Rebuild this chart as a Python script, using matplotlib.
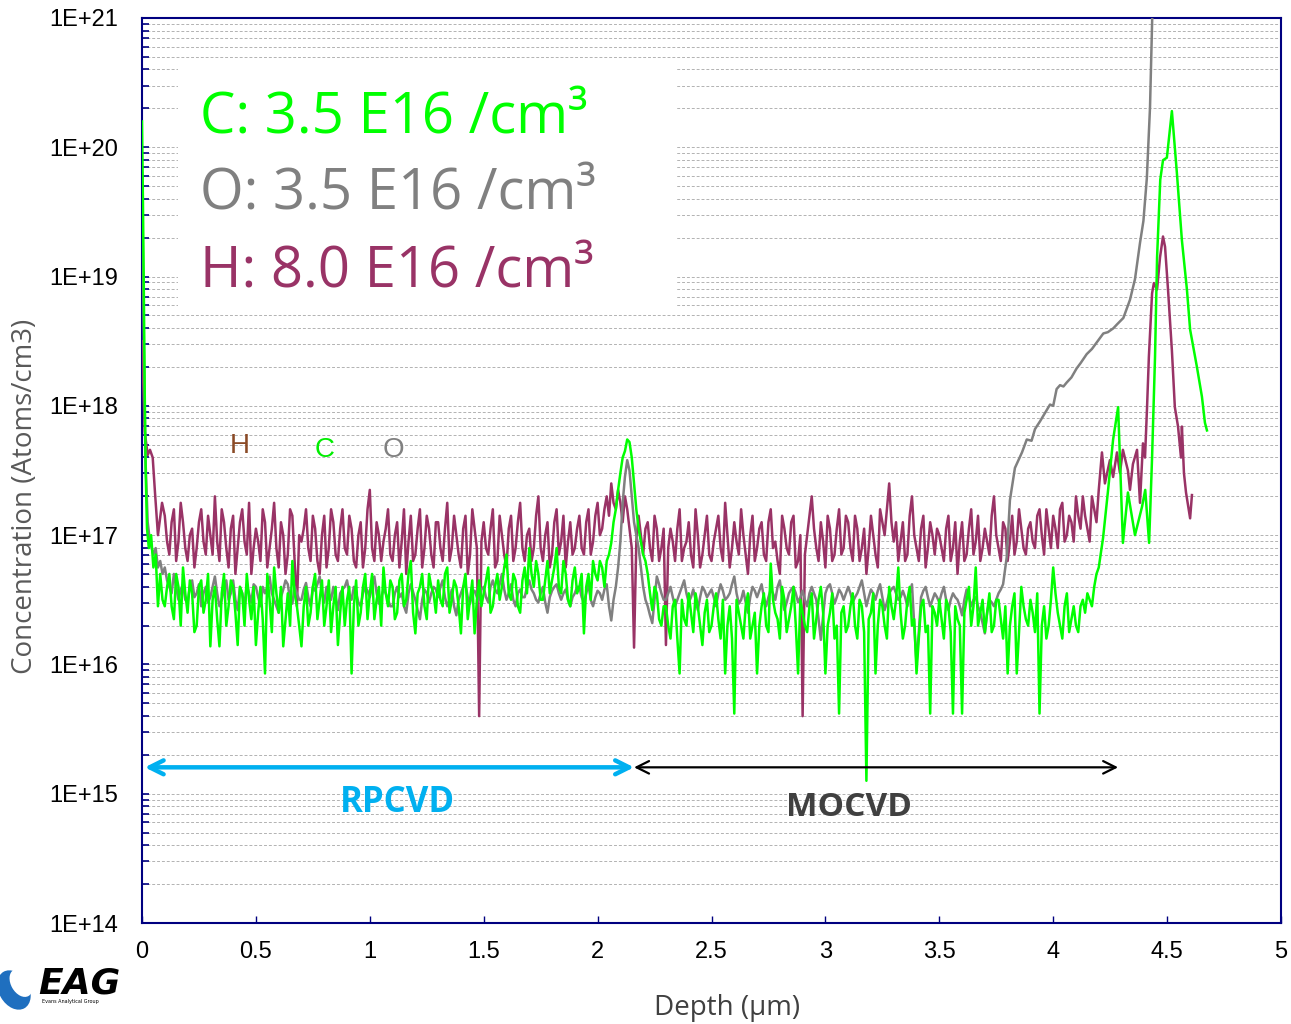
import numpy as np
import matplotlib
matplotlib.use("Agg")
import matplotlib.pyplot as plt
from matplotlib.patches import Rectangle, Ellipse
from matplotlib.ticker import LogLocator, FixedLocator, NullFormatter

# ---------------- data (log10 of concentration, atoms/cm3) ----------------
grid_start = 0.10   # um, regular depth sampling of the profile body
grid_step = 0.02    # "base" points at 0.10, 0.12, ...; "mid" points at 0.11, 0.13, ...

# Hydrogen
h_surface_depth = [0.0, 0.012, 0.025, 0.035, 0.047, 0.057, 0.07, 0.088]
h_surface_log = [18.5, 17.8, 17.62, 17.66, 17.6, 17.33, 17.0, 17.25]
h_base_log = [
    17.15, 16.85, 17.2, 16.95, 17.1, 16.8, 17.05, 16.9, 17.2, 16.85,
    17.0, 17.3, 16.8, 17.1, 16.75, 17.15, 16.9, 17.2, 16.85, 16.7,
    17.05, 16.8, 17.1, 16.9, 17.25, 16.75, 17.0, 16.85, 17.15, 16.45,
    16.95, 17.2, 16.8, 17.05, 16.7, 17.15, 16.9, 17.1, 16.8, 17.2,
    16.85, 17.05, 16.75, 17.1, 16.9, 17.35, 16.8, 17.0, 16.95, 17.2,
    16.8, 17.1, 16.95, 16.7, 17.15, 16.85, 17.2, 16.9, 17.05, 16.75,
    17.1, 16.8, 17.25, 16.9, 17.0, 16.75, 17.15, 16.85, 17.05, 15.6,
    17.1, 16.85, 17.2, 16.8, 17.0, 16.75, 17.15, 16.9, 17.25, 16.8,
    17.05, 16.9, 17.3, 16.8, 17.1, 16.85, 17.2, 16.95, 16.75, 17.1,
    16.9, 17.15, 16.85, 17.2, 16.95, 17.25, 17.05, 17.3, 17.4, 17.2,
    17.25, 17.3, 17.05, 16.13, 17.15, 16.85, 17.1, 16.8, 17.05, 16.9,
    16.15, 17.05, 16.8, 17.2, 16.9, 17.1, 16.75, 17.0, 16.85, 17.15,
    16.8, 17.05, 16.9, 17.25, 16.75, 17.1, 16.85, 17.0, 16.7, 17.15,
    16.9, 17.1, 16.8, 17.2, 16.95, 16.7, 17.05, 16.85, 17.15, 16.8,
    15.6, 17.0, 17.3, 16.9, 17.1, 16.75, 17.05, 16.85, 17.2, 16.9,
    17.1, 16.8, 17.05, 16.9, 16.7, 17.15, 16.85, 17.2, 17.0, 17.4,
    16.95, 16.8, 17.1, 16.85, 17.3, 16.9, 17.05, 16.75, 17.1, 16.85,
    17.0, 16.8, 17.15, 16.9, 16.7, 17.1, 16.85, 17.2, 16.95, 16.8,
    17.05, 16.85, 17.3, 16.9, 17.1, 16.8, 17.15, 16.95, 17.05, 16.85,
    17.1, 16.9, 17.2, 16.85, 17.05, 17.15, 16.9, 17.25, 17.0, 17.1,
    17.3, 17.05, 17.15, 16.95, 17.2, 17.35,
]
h_mid_log = [
    16.95, 17.1, 16.8, 17.25, 16.9, 17.0, 16.75, 17.1, 16.95, 17.15,
    16.85, 16.95, 17.2, 16.9, 17.05, 16.7, 17.1, 16.95, 17.25, 16.9,
    16.95, 17.2, 16.75, 17.05, 16.9, 17.1, 16.7, 17.2, 16.8, 17.0,
    17.05, 16.9, 17.15, 16.8, 17.0, 16.75, 17.2, 16.85, 17.05, 16.9,
    17.15, 16.8, 17.0, 16.75, 17.2, 16.9, 17.1, 16.8, 17.05, 16.85,
    17.0, 16.75, 17.2, 16.95, 16.8, 17.05, 16.75, 17.15, 16.85, 17.1,
    16.9, 17.05, 16.8, 17.15, 16.85, 17.05, 16.7, 17.2, 16.9, 16.95,
    16.9, 17.05, 16.75, 17.15, 16.85, 17.05, 16.8, 17.1, 16.9, 17.0,
    16.8, 17.15, 16.9, 17.0, 16.75, 17.1, 16.85, 17.15, 16.95, 16.85,
    17.05, 16.9, 17.1, 16.85, 17.15, 17.0, 17.2, 17.15, 17.25, 17.35,
    17.1, 17.2, 16.9, 16.95, 17.0, 17.05, 16.9, 17.15, 16.8, 17.05,
    16.9, 16.95, 17.05, 16.8, 16.95, 16.85, 17.2, 16.75, 17.0, 16.85,
    16.95, 17.15, 16.8, 17.0, 16.9, 16.95, 17.2, 16.85, 17.0, 16.8,
    17.05, 16.85, 17.1, 16.9, 16.8, 17.15, 16.9, 17.1, 16.75, 17.0,
    16.85, 17.15, 17.05, 16.8, 16.95, 17.15, 16.8, 17.05, 16.85, 17.15,
    16.9, 17.15, 16.8, 17.05, 16.9, 17.0, 16.75, 17.1, 17.2, 17.1,
    17.1, 16.95, 16.8, 17.15, 17.0, 16.8, 17.15, 16.9, 17.0, 17.05,
    16.9, 17.05, 16.8, 17.1, 16.95, 16.8, 17.05, 16.85, 17.15, 16.9,
    16.95, 17.15, 17.0, 16.8, 17.05, 16.95, 16.85, 17.2, 16.9, 17.05,
    16.95, 17.15, 17.0, 17.2, 16.9, 17.05, 17.2, 16.95, 17.15, 16.95,
    17.15, 17.3, 17.05, 17.3, 17.1,
]
h_tail_depth = [4.214, 4.227, 4.249, 4.263, 4.280, 4.293, 4.306, 4.328, 4.337, 4.350,
                4.368, 4.381, 4.394, 4.403, 4.412, 4.420, 4.434, 4.442, 4.456, 4.469,
                4.482, 4.491, 4.504, 4.521, 4.534, 4.548, 4.561, 4.565, 4.574, 4.583,
                4.601, 4.609]
h_tail_log = [17.64, 17.4, 17.58, 17.45, 17.64, 17.48, 17.66, 17.5, 17.35, 17.55,
              17.66, 17.25, 17.71, 17.6, 17.99, 18.38, 18.87, 18.95, 18.9, 19.15,
              19.31, 19.23, 18.9, 18.43, 17.99, 17.84, 17.6, 17.84, 17.48, 17.33,
              17.13, 17.31]

# Carbon
c_surface_depth = [0.0, 0.004, 0.008, 0.012, 0.016, 0.022, 0.03, 0.04, 0.05, 0.06, 0.07, 0.08, 0.09]
c_surface_log = [20.2, 19.6, 18.9, 18.1, 17.5, 17.05, 16.9, 17.0, 16.75, 16.85, 16.45, 16.7, 16.5]
c_base_log = [
    16.45, 16.7, 16.35, 16.6, 16.75, 16.4, 16.55, 16.3, 16.65, 16.5,
    16.14, 16.6, 16.14, 16.7, 16.45, 16.6, 16.15, 16.55, 16.7, 16.35,
    16.15, 16.6, 15.93, 16.5, 16.75, 16.4, 16.14, 16.55, 16.8, 16.45,
    16.14, 16.6, 16.4, 16.7, 16.5, 16.3, 16.65, 16.45, 16.15, 16.6,
    16.5, 15.93, 16.65, 16.4, 16.7, 16.55, 16.35, 16.6, 16.75, 16.45,
    16.6, 16.4, 16.7, 16.5, 16.8, 16.24, 16.6, 16.45, 16.7, 16.55,
    16.65, 16.45, 16.75, 16.5, 16.6, 16.24, 16.7, 16.5, 16.24, 16.65,
    16.55, 16.75, 16.45, 16.7, 16.6, 16.85, 16.5, 16.65, 16.4, 16.75,
    16.9, 16.6, 16.7, 16.5, 16.8, 16.65, 16.9, 16.55, 16.7, 16.45,
    16.75, 16.6, 16.24, 16.7, 16.8, 16.65, 16.75, 16.8, 16.94, 17.2,
    17.48, 17.65, 17.72, 17.4, 17.05, 16.85, 16.7, 16.42, 16.55, 16.3,
    16.45, 16.2, 16.5, 15.93, 16.35, 16.55, 16.25, 16.45, 16.15, 16.5,
    16.3, 16.55, 16.2, 15.93, 16.45, 15.62, 16.4, 16.2, 16.55, 16.3,
    15.93, 16.45, 16.3, 16.78, 16.4, 16.2, 16.5, 16.35, 16.6, 15.93,
    16.4, 16.25, 16.55, 16.35, 16.6, 15.93, 16.4, 16.2, 15.62, 16.45,
    16.3, 16.55, 16.2, 16.45, 15.1, 16.4, 15.93, 16.5, 16.3, 16.6,
    16.35, 16.75, 16.2, 16.5, 16.3, 15.93, 16.45, 16.25, 15.62, 16.4,
    16.5, 16.2, 16.45, 15.62, 16.35, 15.62, 16.5, 16.3, 16.75, 16.4,
    16.25, 16.55, 16.3, 16.5, 16.2, 15.93, 16.45, 15.93, 16.6, 16.35,
    16.5, 16.25, 15.62, 16.45, 16.3, 16.75, 16.4, 16.2, 16.55, 16.35,
    16.3, 16.45, 16.4, 16.5, 16.6, 16.75,
]
c_mid_log = [
    16.6, 16.45, 16.7, 16.3, 16.55, 16.65, 16.25, 16.6, 16.4, 16.7,
    16.5, 16.35, 16.55, 16.3, 16.65, 16.4, 16.6, 16.3, 16.5, 16.6,
    16.4, 16.35, 16.7, 16.25, 16.55, 16.6, 16.35, 16.3, 16.55, 16.3,
    16.45, 16.3, 16.6, 16.35, 16.65, 16.45, 16.25, 16.6, 16.4, 16.3,
    16.6, 16.45, 16.3, 16.6, 16.35, 16.7, 16.5, 16.3, 16.55, 16.65,
    16.35, 16.65, 16.45, 16.7, 16.4, 16.55, 16.7, 16.35, 16.6, 16.4,
    16.5, 16.7, 16.4, 16.65, 16.45, 16.6, 16.35, 16.65, 16.5, 16.45,
    16.65, 16.4, 16.6, 16.5, 16.75, 16.55, 16.7, 16.45, 16.65, 16.55,
    16.7, 16.8, 16.5, 16.65, 16.55, 16.75, 16.6, 16.8, 16.5, 16.65,
    16.55, 16.7, 16.6, 16.5, 16.7, 16.8, 16.6, 16.85, 17.1, 17.35,
    17.6, 17.74, 17.6, 17.2, 16.95, 16.8, 16.55, 16.6, 16.35, 16.45,
    16.3, 16.45, 16.2, 16.5, 16.3, 16.4, 16.55, 16.3, 16.4, 16.25,
    16.45, 16.35, 16.5, 16.3, 16.2, 16.5, 16.3, 16.45, 16.2, 16.4,
    16.3, 16.55, 16.25, 16.5, 16.35, 16.6, 16.25, 16.45, 16.3, 16.5,
    16.3, 16.45, 16.2, 16.5, 16.4, 16.3, 16.55, 16.3, 16.4, 16.25,
    16.45, 16.3, 16.5, 16.25, 16.35, 16.55, 16.3, 16.45, 16.2, 16.45,
    16.5, 16.4, 16.3, 16.6, 16.35, 16.2, 16.5, 16.3, 16.45, 16.3,
    16.35, 16.5, 16.25, 16.45, 16.3, 16.4, 16.6, 16.45, 16.3, 16.5,
    16.4, 16.25, 16.5, 16.35, 16.45, 16.3, 16.55, 16.25, 16.45, 16.3,
    16.4, 16.55, 16.3, 16.2, 16.5, 16.55, 16.3, 16.45, 16.25, 16.45,
    16.25, 16.5, 16.55, 16.45, 16.7,
]
c_tail_depth = [4.219, 4.241, 4.263, 4.285, 4.306, 4.328, 4.359, 4.390, 4.404, 4.421,
                4.434, 4.447, 4.456, 4.470, 4.482, 4.499, 4.521, 4.543, 4.565, 4.587,
                4.601, 4.631, 4.653, 4.666, 4.675]
c_tail_log = [16.98, 17.35, 17.74, 17.99, 16.94, 17.33, 17.0, 17.22, 17.35, 16.94,
              17.6, 18.38, 19.15, 19.75, 19.9, 19.92, 20.28, 19.8, 19.28, 18.9,
              18.59, 18.3, 18.07, 17.87, 17.81]

# Oxygen
o_surface_depth = [0.0, 0.008, 0.015, 0.025, 0.035, 0.05, 0.06, 0.07, 0.08, 0.09]
o_surface_log = [19.8, 18.5, 17.6, 17.1, 16.95, 16.85, 16.9, 16.75, 16.8, 16.7]
o_base_log = [
    16.75, 16.6, 16.7, 16.5, 16.62, 16.48, 16.65, 16.55, 16.45, 16.6,
    16.52, 16.68, 16.45, 16.58, 16.5, 16.65, 16.42, 16.55, 16.62, 16.48,
    16.6, 16.45, 16.55, 16.68, 16.5, 16.4, 16.58, 16.62, 16.47, 16.55,
    16.5, 16.63, 16.45, 16.57, 16.68, 16.48, 16.55, 16.6, 16.42, 16.58,
    16.65, 16.5, 16.55, 16.45, 16.6, 16.52, 16.68, 16.47, 16.58, 16.5,
    16.45, 16.6, 16.55, 16.4, 16.62, 16.5, 16.35, 16.58, 16.48, 16.6,
    16.52, 16.65, 16.45, 16.58, 16.38, 16.55, 16.62, 16.47, 16.57, 16.5,
    16.6, 16.48, 16.65, 16.55, 16.7, 16.5, 16.62, 16.45, 16.58, 16.52,
    16.65, 16.55, 16.48, 16.6, 16.4, 16.57, 16.62, 16.5, 16.58, 16.45,
    16.55, 16.6, 16.48, 16.62, 16.45, 16.57, 16.5, 16.62, 16.34, 16.6,
    16.95, 17.45, 17.5, 17.1, 16.9, 16.6, 16.45, 16.32, 16.68, 16.55,
    16.5, 16.6, 16.45, 16.55, 16.65, 16.48, 16.58, 16.42, 16.6, 16.52,
    16.58, 16.45, 16.62, 16.5, 16.55, 16.68, 16.47, 16.57, 16.4, 16.6,
    16.52, 16.62, 16.45, 16.58, 16.5, 16.65, 16.42, 16.55, 16.6, 16.48,
    16.57, 16.45, 16.6, 16.5, 16.19, 16.55, 16.62, 16.47, 16.58, 16.5,
    16.6, 16.48, 16.55, 16.65, 16.45, 16.58, 16.5, 16.62, 16.42, 16.55,
    16.6, 16.5, 16.57, 16.45, 16.62, 16.01, 16.52, 16.6, 16.45, 16.55,
    16.48, 16.6, 16.42, 16.55, 16.5, 16.38, 16.58, 16.45, 16.52, 16.4,
    16.24, 16.5, 16.45, 16.55, 16.62,
]
o_mid_log = [
    16.65, 16.55, 16.6, 16.58, 16.5, 16.6, 16.52, 16.62, 16.55, 16.48,
    16.6, 16.55, 16.5, 16.65, 16.55, 16.5, 16.6, 16.45, 16.55, 16.62,
    16.52, 16.6, 16.6, 16.55, 16.45, 16.52, 16.65, 16.5, 16.6, 16.5,
    16.58, 16.52, 16.6, 16.62, 16.55, 16.6, 16.5, 16.52, 16.55, 16.6,
    16.55, 16.6, 16.48, 16.55, 16.57, 16.6, 16.55, 16.52, 16.55, 16.45,
    16.55, 16.52, 16.45, 16.55, 16.56, 16.42, 16.5, 16.55, 16.55, 16.58,
    16.6, 16.52, 16.5, 16.45, 16.5, 16.6, 16.52, 16.55, 16.52, 16.58,
    16.52, 16.6, 16.58, 16.62, 16.58, 16.55, 16.5, 16.55, 16.52, 16.6,
    16.58, 16.5, 16.55, 16.48, 16.52, 16.6, 16.55, 16.55, 16.5, 16.52,
    16.6, 16.52, 16.55, 16.5, 16.52, 16.55, 16.58, 16.45, 16.5, 16.75,
    17.25, 17.58, 17.3, 17.0, 16.75, 16.5, 16.38, 16.5, 16.62, 16.5,
    16.55, 16.52, 16.5, 16.6, 16.55, 16.52, 16.5, 16.52, 16.57, 16.55,
    16.52, 16.55, 16.57, 16.52, 16.62, 16.55, 16.5, 16.48, 16.52, 16.57,
    16.57, 16.52, 16.52, 16.55, 16.6, 16.52, 16.48, 16.58, 16.55, 16.52,
    16.5, 16.55, 16.55, 16.35, 16.38, 16.6, 16.55, 16.52, 16.55, 16.55,
    16.55, 16.52, 16.6, 16.55, 16.52, 16.55, 16.57, 16.52, 16.48, 16.58,
    16.55, 16.52, 16.52, 16.55, 16.3, 16.25, 16.57, 16.52, 16.5, 16.52,
    16.55, 16.5, 16.5, 16.52, 16.45, 16.5, 16.52, 16.5, 16.45, 16.32,
    16.4, 16.48, 16.5, 16.58,
]
o_tail_depth = [3.796, 3.810, 3.832, 3.863, 3.884, 3.905, 3.920, 3.942, 3.986, 4.000,
                4.015, 4.030, 4.045, 4.059, 4.080, 4.103, 4.120, 4.147, 4.170, 4.191,
                4.220, 4.240, 4.264, 4.280, 4.308, 4.337, 4.359, 4.381, 4.396, 4.411,
                4.425, 4.435, 4.442]
o_tail_log = [16.83, 17.27, 17.52, 17.64, 17.74, 17.73, 17.82, 17.88, 18.01, 18.00,
              18.13, 18.16, 18.15, 18.18, 18.22, 18.29, 18.33, 18.40, 18.44, 18.49,
              18.56, 18.57, 18.60, 18.63, 18.68, 18.82, 18.98, 19.26, 19.43, 19.76,
              20.31, 21.0, 21.6]

y_tick_values = [1e14, 1e15, 1e16, 1e17, 1e18, 1e19, 1e20, 1e21]
y_tick_labels = ["1E+14", "1E+15", "1E+16", "1E+17", "1E+18", "1E+19", "1E+20", "1E+21"]
x_tick_values = [0, 0.5, 1, 1.5, 2, 2.5, 3, 3.5, 4, 4.5, 5]
x_tick_labels = ["0", "0.5", "1", "1.5", "2", "2.5", "3", "3.5", "4", "4.5", "5"]

legend_lines = ["C: 3.5 E16 /cm\u00b3", "O: 3.5 E16 /cm\u00b3", "H: 8.0 E16 /cm\u00b3"]


def build(surface_d, surface_l, base_l, mid_l, tail_d, tail_l):
    base_d = grid_start + grid_step * np.arange(len(base_l))
    mid_d = grid_start + grid_step / 2 + grid_step * np.arange(len(mid_l))
    body_d = np.concatenate([base_d, mid_d])
    body_l = np.concatenate([base_l, mid_l])
    order = np.argsort(body_d)
    d = np.concatenate([surface_d, body_d[order], tail_d])
    c = 10.0 ** np.concatenate([surface_l, body_l[order], tail_l])
    return d, c


h_d, h_c = build(h_surface_depth, h_surface_log, h_base_log, h_mid_log, h_tail_depth, h_tail_log)
c_d, c_c = build(c_surface_depth, c_surface_log, c_base_log, c_mid_log, c_tail_depth, c_tail_log)
o_d, o_c = build(o_surface_depth, o_surface_log, o_base_log, o_mid_log, o_tail_depth, o_tail_log)

# ---------------- figure ----------------
W, H = 1291, 1024
fig = plt.figure(figsize=(W / 100, H / 100), dpi=100)
fig.patch.set_facecolor("white")


def fx(x):
    return x / W


def fy(y):
    return 1 - y / H


navy = "#000080"
ax = fig.add_axes([fx(142), fy(923), fx(1281) - fx(142), fy(18) - fy(923)])
ax.set_yscale("log")
ax.set_xlim(0, 5)
ax.set_ylim(1e14, 1e21)

ax.yaxis.set_major_locator(FixedLocator(y_tick_values))
ax.set_yticklabels(y_tick_labels)
ax.yaxis.set_minor_locator(LogLocator(base=10, subs=np.arange(2, 10), numticks=100))
ax.yaxis.set_minor_formatter(NullFormatter())
ax.set_xticks(x_tick_values)
ax.set_xticklabels(x_tick_labels)

ax.grid(axis="y", which="both", color="#b2b2b2", linestyle=(0, (3, 2)), linewidth=0.7, zorder=0)
ax.set_axisbelow(True)

for s in ax.spines.values():
    s.set_color(navy)
    s.set_linewidth(1.5)

ax.tick_params(axis="y", which="both", direction="in", length=5, width=1.2, color=navy,
               left=True, right=False, labelsize=17, pad=17)
ax.tick_params(axis="x", which="both", direction="in", length=5, width=1.0, color=navy,
               top=False, labelsize=17, pad=13)
for lab in ax.get_xticklabels() + ax.get_yticklabels():
    lab.set_fontfamily("Liberation Sans")
    lab.set_color("black")

# white box behind the legend text
ax.add_patch(Rectangle(((178 - 142) / 1139, (923 - 308) / 905), (676 - 178) / 1139, (308 - 62) / 905,
                       transform=ax.transAxes, facecolor="white", edgecolor="none", zorder=1))

ax.plot(h_d, h_c, color="#993366", lw=1.8, zorder=3)
ax.plot(o_d, o_c, color="#808080", lw=1.8, zorder=4)
ax.plot(c_d, c_c, color="#00ff00", lw=1.8, zorder=5)

# arrows and layer names
ax.annotate("", xy=(0.012, 1.6e15), xytext=(2.16, 1.6e15),
            arrowprops=dict(arrowstyle="<->,head_length=1.0,head_width=0.5", color="#00b0f0", lw=3.2,
                            shrinkA=0, shrinkB=0), zorder=6)
ax.annotate("", xy=(2.16, 1.6e15), xytext=(4.285, 1.6e15),
            arrowprops=dict(arrowstyle="<->,head_length=0.9,head_width=0.45", color="black", lw=1.6,
                            shrinkA=0, shrinkB=0), zorder=6)
fig.text(fx(397), fy(803), "RPCVD", color="#00b0f0", fontsize=25, fontweight="bold",
         family="Open Sans", ha="center", va="center")
fig.text(fx(849), fy(808), "MOCVD", color="#404040", fontsize=24, fontweight="bold",
         family="Open Sans", ha="center", va="center")

# element labels
fig.text(fx(240), fy(446), "H", color="#8a4a26", fontsize=20, family="Liberation Sans", ha="center", va="center")
fig.text(fx(325), fy(450), "C", color="#00ee00", fontsize=20, family="Liberation Sans", ha="center", va="center")
fig.text(fx(393), fy(450), "O", color="#808080", fontsize=20, family="Liberation Sans", ha="center", va="center")

# concentration summary
for txt, col, yb in zip(legend_lines, ["#00ff00", "#808080", "#993366"], [133, 210, 287]):
    fig.text(fx(200), fy(yb), txt, color=col, fontsize=40.5, family="Open Sans", ha="left", va="baseline")

# axis titles
fig.text(fx(25), fy(496), "Concentration (Atoms/cm3)", rotation=90, color="#595959", fontsize=20,
         family="Open Sans", ha="center", va="center")
fig.text(fx(727), fy(1008), "Depth (\u00b5m)", color="#404040", fontsize=20, family="Open Sans",
         ha="center", va="center")

# logo
lax = fig.add_axes([0, fy(1015), fx(132), fy(962) - fy(1015)])
lax.set_xlim(0, 132)
lax.set_ylim(53, 0)
lax.axis("off")
lax.add_patch(Ellipse((14, 28), 30, 42, angle=-30, facecolor="#1f6fbf", edgecolor="none"))
lax.add_patch(Ellipse((21, 21), 20, 30, angle=-30, facecolor="white", edgecolor="none"))
lax.text(38, 21, "EAG", fontsize=26, fontweight="bold", fontstyle="italic", family="DejaVu Sans",
         color="black", ha="left", va="center")
lax.text(42, 39, "Evans Analytical Group", fontsize=3.5, color="black", ha="left", va="center")

fig.savefig("out.png", dpi=100)
